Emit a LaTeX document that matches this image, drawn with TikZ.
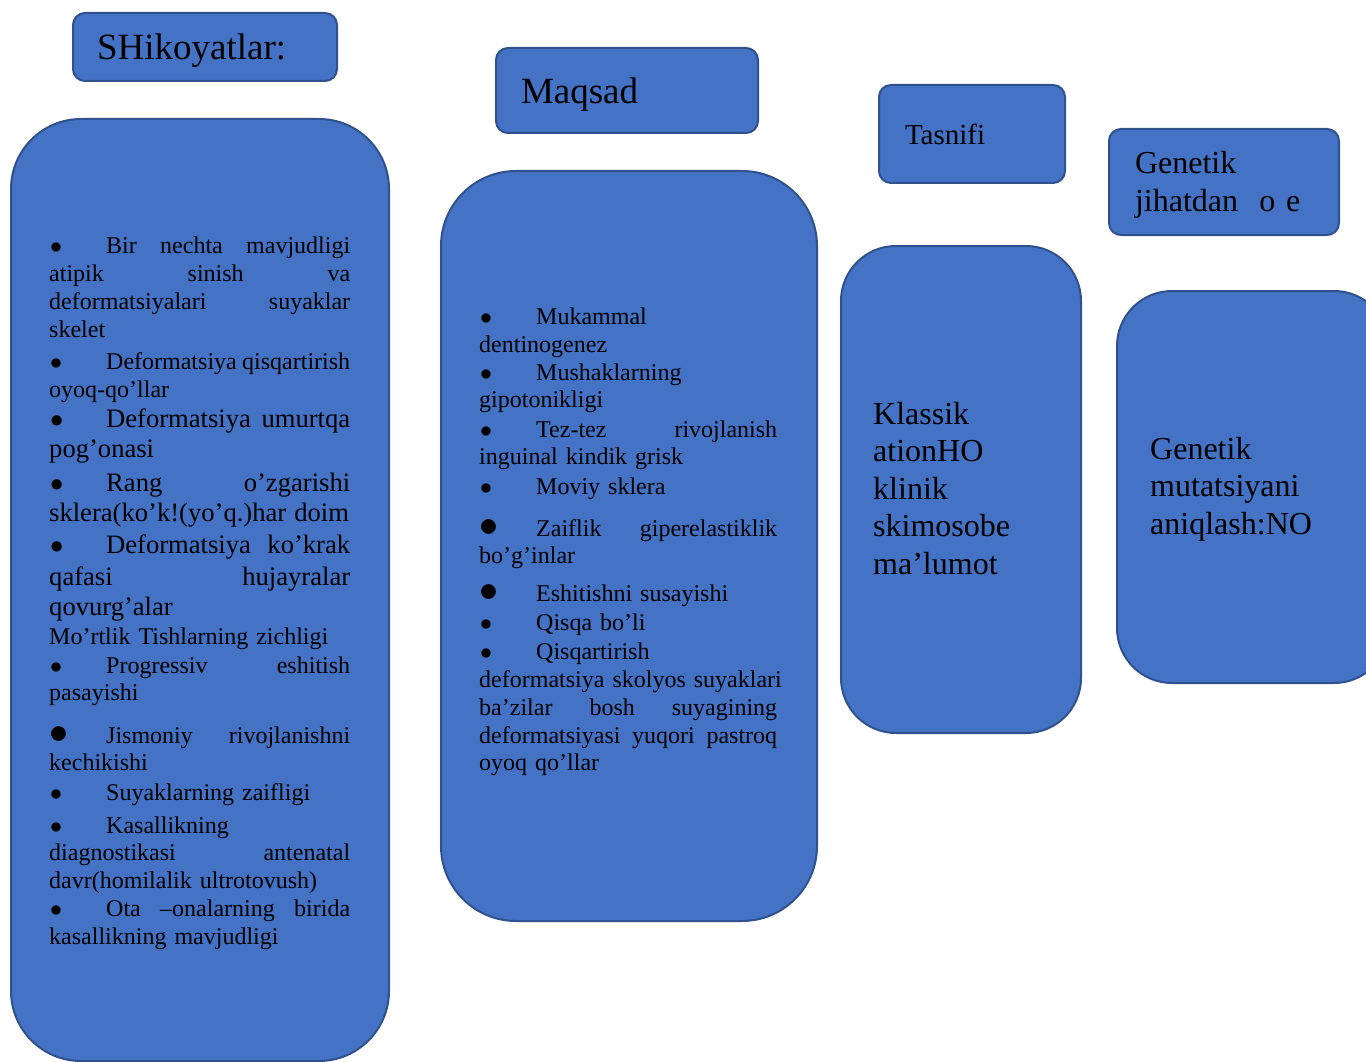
\RequirePackage{fix-cm}
\documentclass[tikz,border=0pt]{standalone}
\usepackage{fontspec}
\setmainfont{Liberation Serif}
\definecolor{boxfill}{HTML}{4472C4}
\definecolor{boxline}{HTML}{2F528F}
\tikzset{titlebox/.style={draw=boxline, fill=boxfill, line width=2pt, rounded corners=12pt, anchor=north west, align=left, inner ysep=0pt, text depth=0pt}}
\tikzset{bigbox/.style={draw=boxline, fill=boxfill, line width=2pt, anchor=north west, inner sep=0pt}}
\tikzset{listtext/.style={anchor=base west, inner sep=0pt, align=left, font=\fontsize{24}{28}\selectfont}}
\tikzset{bigtext/.style={anchor=base west, inner sep=0pt, align=left, text width=200pt, font=\fontsize{32}{37.5}\selectfont}}
\newcommand{\bul}{\makebox[57pt][l]{\hspace{1pt}$\bullet$}}
\newcommand{\bigbul}{\makebox[57pt][l]{{\fontsize{38}{28}\selectfont$\bullet$}}}
\newcommand{\midsize}{\fontsize{26.6}{28}\selectfont}

\begin{document}
\begin{tikzpicture}[x=1pt,y=-1pt]
\useasboundingbox (0,0) rectangle (1366,1062);
\node (shik) [titlebox, minimum width=264pt, minimum height=68pt, inner xsep=24pt, text width=216pt, font=\fontsize{37}{44}\selectfont] at (72,12) {SHikoyatlar:};
\node (maqsad) [titlebox, minimum width=262pt, minimum height=85pt, inner xsep=25pt, text width=212pt, font=\fontsize{37}{44}\selectfont] at (495,47) {Maqsad};
\node (tasnif) [titlebox, minimum width=186pt, minimum height=98pt, inner xsep=26pt, text width=134pt, font=\fontsize{29}{34}\selectfont] at (878,84) {Tasnifi};
\node (genetik) [titlebox, minimum width=230pt, minimum height=106pt, inner xsep=26pt, text width=178pt, text depth=40pt, font=\fontsize{32}{38}\selectfont] at (1108,128) {Genetik\\ jihatdan~ o e};

\node (shikbox) [bigbox, minimum width=378pt, minimum height=942pt, rounded corners=70pt] at (10,118) {};
\node (maqsadbox) [bigbox, minimum width=376pt, minimum height=750pt, rounded corners=75pt] at (440,170) {};
\node (tasnifbox) [bigbox, minimum width=240pt, minimum height=487pt, rounded corners=55pt] at (840,245) {};
\node (genetikbox) [bigbox, minimum width=272pt, minimum height=392pt, rounded corners=55pt] at (1116,290) {};

\node (shiktext) [listtext, text width=301pt] at (49,253) {%
\bul Bir\hfill nechta\hfill mavjudligi\\
atipik\hfill sinish\hfill va\\
deformatsiyalari\hfill suyaklar\\
skelet\\[4pt]
\bul Deformatsiya\hfill qisqartirish\\
oyoq-qo’llar\\[3pt]
{\midsize\bul Deformatsiya\hfill umurtqa}\\[2pt]
{\midsize pog’onasi}\\[5pt]
{\midsize\bul Rang\hfill o’zgarishi}\\[3pt]
{\midsize\mbox{sklera(ko’k!(yo’q.)har doim}}\\[4pt]
{\midsize\bul Deformatsiya\hfill ko’krak}\\[3pt]
{\midsize qafasi\hfill hujayralar}\\[2pt]
{\midsize qovurg’alar}\\[2pt]
Mo’rtlik Tishlarning zichligi\\[1pt]
\bul Progressiv\hfill eshitish\\[-1pt]
pasayishi\\[15pt]
\bigbul Jismoniy\hfill rivojlanishni\\[-1pt]
kechikishi\\[2pt]
\bul Suyaklarning zaifligi\\[5pt]
\bul Kasallikning\\[-1pt]
diagnostikasi\hfill antenatal\\
davr(homilalik ultrotovush)\\
\bul Ota\hfill –onalarning\hfill birida\\
kasallikning mavjudligi};

\node (maqsadtext) [listtext, text width=298pt] at (479,324) {%
\bul Mukammal\\
dentinogenez\\
\bul Mushaklarning\\[-1pt]
gipotonikligi\\[2pt]
\bul Tez-tez\hfill rivojlanish\\[-1pt]
inguinal kindik grisk\\[2pt]
\bul Moviy sklera\\[14pt]
\bigbul Zaiflik\hfill giperelastiklik\\[-1pt]
bo’g’inlar\\[10pt]
\bigbul Eshitishni susayishi\\[1pt]
\bul Qisqa bo’li\\[1pt]
\bul Qisqartirish\\
\mbox{deformatsiya skolyos suyaklari}\\
ba’zilar\hfill bosh\hfill suyagining\\
deformatsiyasi\hfill yuqori\hfill pastroq\\[-1pt]
oyoq qo’llar};

\node (tasniftext) [bigtext] at (873,424) {Klassik\\ ationHO\\ klinik\\ skimosobe\\ ma’lumot};
\node (genetiktext) [bigtext] at (1150,459) {Genetik\\ mutatsiyani\\ aniqlash:NO};
\end{tikzpicture}
\end{document}
